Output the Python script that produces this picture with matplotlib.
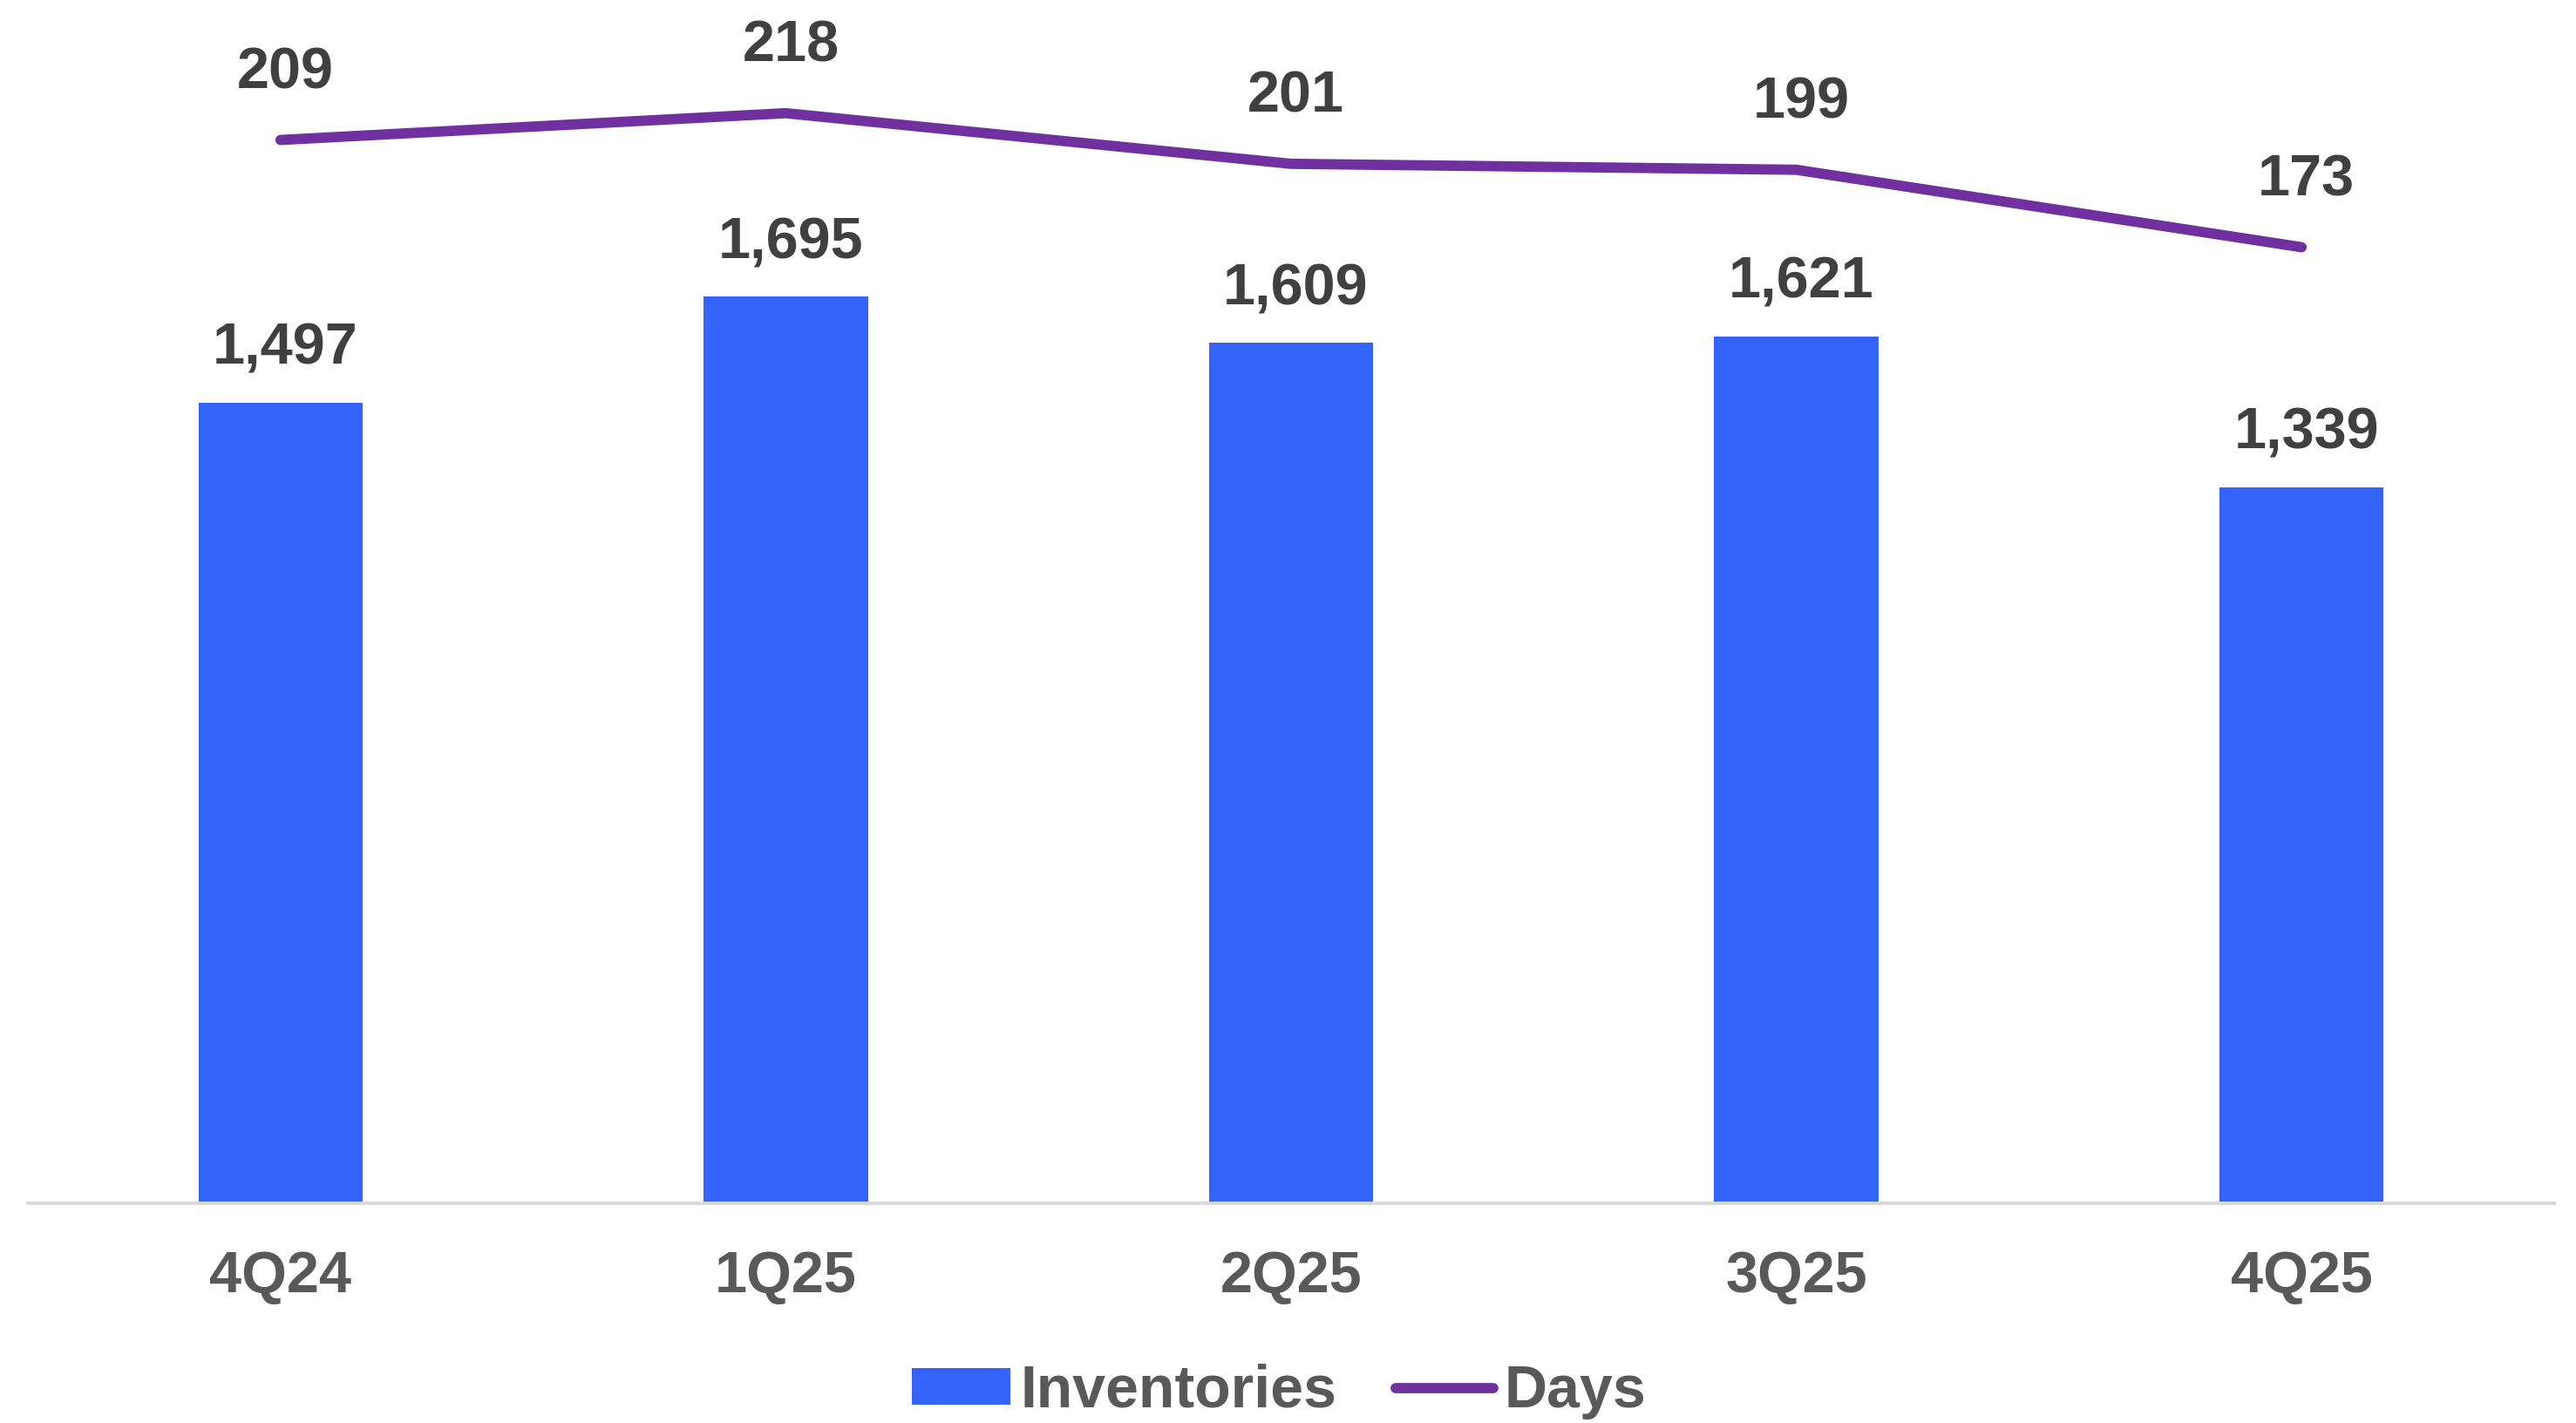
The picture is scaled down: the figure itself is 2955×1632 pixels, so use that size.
import matplotlib
matplotlib.use("Agg")
import matplotlib.pyplot as plt
from matplotlib.patches import Patch
from matplotlib.lines import Line2D

categories = ["4Q24", "1Q25", "2Q25", "3Q25", "4Q25"]
inventories = [1497, 1695, 1609, 1621, 1339]
days = [209, 218, 201, 199, 173]

BAR_COLOR = "#3363FB"
LINE_COLOR = "#7030A0"
LABEL_COLOR = "#404040"
TICK_COLOR = "#595959"

plt.rcParams["font.family"] = ["Liberation Sans", "DejaVu Sans"]

fig = plt.figure(figsize=(29.55, 16.32), dpi=100)
ax = fig.add_axes([32 / 2955, 1 - 1380 / 1632, 2898 / 2955, 1380 / 1632])
x = list(range(len(categories)))

ax.bar(x, inventories, width=0.325, color=BAR_COLOR, zorder=2)
ax.set_xlim(-0.5, len(categories) - 0.5)
ax.set_ylim(0, 2250)
for xi, v in zip(x, inventories):
    ax.annotate(f"{v:,}", (xi, v), xytext=(4, 44), textcoords="offset points",
                ha="center", va="center", fontsize=48, fontweight="bold",
                color=LABEL_COLOR)

for s in ["top", "right", "left"]:
    ax.spines[s].set_visible(False)
ax.spines["bottom"].set_color("#D9D9D9")
ax.spines["bottom"].set_linewidth(2.8)
ax.set_yticks([])
ax.set_xticks(x)
ax.set_xticklabels(categories, fontsize=48, fontweight="bold", color=TICK_COLOR)
ax.tick_params(axis="x", length=0, pad=39)

ax2 = ax.twinx()
ax2.plot(x, days, color=LINE_COLOR, linewidth=8.5, solid_capstyle="round",
         solid_joinstyle="round", zorder=3)
ax2.set_ylim(-148, 256)
ax2.set_yticks([])
for s in ["top", "right", "left", "bottom"]:
    ax2.spines[s].set_visible(False)
for xi, v in zip(x, days):
    ax2.annotate(f"{v}", (xi, v), xytext=(4, 55), textcoords="offset points",
                 ha="center", va="center", fontsize=48, fontweight="bold",
                 color=LABEL_COLOR)

handles = [Patch(facecolor=BAR_COLOR, edgecolor="none", label="Inventories"),
           Line2D([0], [0], color=LINE_COLOR, linewidth=8.5, solid_capstyle="round",
                  label="Days")]
fig.legend(handles=handles, loc="center", bbox_to_anchor=(1467 / 2955, 1 - 1596 / 1632),
           ncol=2, frameon=False, prop={"size": 49, "weight": "bold"},
           handlelength=1.65, handleheight=0.57,
           handletextpad=0.17, columnspacing=1.0, labelcolor=TICK_COLOR,
           borderpad=0, borderaxespad=0)

fig.savefig("out.png", dpi=100, facecolor="white")
